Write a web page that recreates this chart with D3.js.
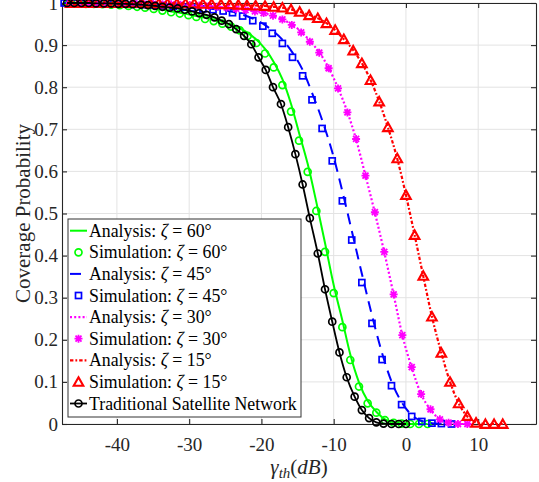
<!DOCTYPE html>
<html>
<head>
<meta charset="utf-8">
<script src="https://cdn.jsdelivr.net/npm/d3@7"></script>
<style>
  body { margin: 0; background: #fff; }
  svg { display: block; }
  text { font-family: "Liberation Serif", "Times New Roman", serif; }
</style>
</head>
<body>
<div id="chart"></div>
<script>
const width = 539;
const height = 482;

// ---- data ----
const xTicks = [-40, -30, -20, -10, 0, 10];
const yTicks = [0, 0.1, 0.2, 0.3, 0.4, 0.5, 0.6, 0.7, 0.8, 0.9, 1];

// zeta = 60 deg
const greenX = [-46.7, -45.5, -44.3, -43.2, -42.0, -40.8, -39.6, -38.4, -37.2, -36.1, -34.9, -33.7, -32.5, -31.3, -30.1, -29.0, -27.8, -26.6, -25.4, -24.2, -23.0, -21.9, -20.7, -19.5, -18.3, -17.1, -15.9, -14.8, -13.6, -12.4, -11.2, -10.0, -8.8, -7.7, -6.5, -5.3, -4.1, -2.9, -1.7, -0.6, 0.6, 1.8, 3.0];
const greenAnalysis = [0.999, 0.999, 0.998, 0.998, 0.997, 0.996, 0.995, 0.994, 0.992, 0.990, 0.987, 0.984, 0.980, 0.977, 0.973, 0.969, 0.965, 0.960, 0.955, 0.948, 0.940, 0.929, 0.913, 0.891, 0.860, 0.819, 0.760, 0.692, 0.618, 0.527, 0.430, 0.330, 0.246, 0.165, 0.099, 0.055, 0.029, 0.011, 0.004, 0.001, 0, 0, 0];
const greenSim = [0.999, 0.999, 0.998, 0.998, 0.997, 0.996, 0.995, 0.993, 0.991, 0.989, 0.986, 0.982, 0.978, 0.975, 0.971, 0.967, 0.962, 0.957, 0.951, 0.944, 0.935, 0.922, 0.905, 0.880, 0.847, 0.805, 0.742, 0.673, 0.599, 0.506, 0.409, 0.311, 0.230, 0.152, 0.089, 0.049, 0.027, 0.009, 0.003, 0.001, 0, 0, 0];

// zeta = 45 deg
const blueX = [-47.3, -45.9, -44.6, -43.2, -41.8, -40.5, -39.1, -37.7, -36.3, -35.0, -33.6, -32.2, -30.8, -29.5, -28.1, -26.7, -25.3, -24.0, -22.6, -21.2, -19.8, -18.5, -17.1, -15.7, -14.3, -13.0, -11.6, -10.2, -8.8, -7.5, -6.1, -4.7, -3.3, -2.0, -0.6, 0.8, 2.2, 3.6, 4.9, 6.3];
const blueAnalysis = [1.000, 1.000, 0.999, 0.999, 0.999, 0.998, 0.998, 0.997, 0.996, 0.996, 0.995, 0.993, 0.991, 0.990, 0.988, 0.986, 0.983, 0.979, 0.972, 0.963, 0.951, 0.935, 0.913, 0.882, 0.841, 0.787, 0.722, 0.646, 0.553, 0.459, 0.357, 0.258, 0.168, 0.101, 0.052, 0.021, 0.007, 0.002, 0.001, 0];
const blueSim = [1.000, 1.000, 0.999, 0.999, 0.999, 0.998, 0.998, 0.997, 0.996, 0.995, 0.994, 0.992, 0.990, 0.988, 0.986, 0.984, 0.981, 0.977, 0.969, 0.958, 0.945, 0.928, 0.904, 0.871, 0.827, 0.770, 0.702, 0.625, 0.530, 0.437, 0.336, 0.239, 0.153, 0.091, 0.046, 0.018, 0.006, 0.002, 0.001, 0];

// zeta = 30 deg
const magentaX = [-46.5, -45.3, -44.0, -42.7, -41.4, -40.1, -38.9, -37.6, -36.3, -35.0, -33.7, -32.5, -31.2, -29.9, -28.6, -27.3, -26.1, -24.8, -23.5, -22.2, -20.9, -19.7, -18.4, -17.1, -15.8, -14.5, -13.3, -12.0, -10.7, -9.4, -8.1, -6.9, -5.6, -4.3, -3.0, -1.7, -0.5, 0.8, 2.1, 3.4, 4.7, 5.9, 7.2, 8.5];
const magentaAnalysis = [1.000, 1.000, 1.000, 1.000, 1.000, 0.999, 0.999, 0.999, 0.998, 0.998, 0.997, 0.997, 0.996, 0.995, 0.994, 0.993, 0.991, 0.989, 0.986, 0.983, 0.980, 0.976, 0.970, 0.961, 0.949, 0.932, 0.910, 0.883, 0.846, 0.798, 0.741, 0.676, 0.590, 0.502, 0.408, 0.307, 0.211, 0.134, 0.071, 0.034, 0.011, 0.003, 0, 0];
const magentaSim = [1.000, 1.000, 1.000, 1.000, 1.000, 0.999, 0.999, 0.999, 0.998, 0.998, 0.997, 0.997, 0.996, 0.995, 0.994, 0.993, 0.991, 0.989, 0.986, 0.983, 0.980, 0.976, 0.970, 0.961, 0.948, 0.930, 0.908, 0.882, 0.845, 0.797, 0.740, 0.677, 0.590, 0.503, 0.409, 0.308, 0.211, 0.135, 0.071, 0.035, 0.011, 0.003, 0, 0];

// zeta = 15 deg
const redX = [-46.4, -45.2, -43.9, -42.7, -41.5, -40.3, -39.1, -37.8, -36.6, -35.4, -34.2, -33.0, -31.7, -30.5, -29.3, -28.1, -26.9, -25.6, -24.4, -23.2, -22.0, -20.8, -19.5, -18.3, -17.1, -15.9, -14.7, -13.4, -12.2, -11.0, -9.8, -8.6, -7.3, -6.1, -4.9, -3.7, -2.5, -1.2, 0.0, 1.2, 2.4, 3.6, 4.9, 6.1, 7.3, 8.5, 9.7, 11.0, 12.2, 13.4];
const redAnalysis = [1, 1, 1, 1, 1, 1, 1, 1, 1, 0.999, 0.999, 0.999, 0.999, 0.999, 0.999, 0.998, 0.998, 0.997, 0.997, 0.996, 0.995, 0.994, 0.993, 0.991, 0.989, 0.985, 0.979, 0.972, 0.964, 0.952, 0.936, 0.914, 0.888, 0.857, 0.817, 0.766, 0.705, 0.630, 0.544, 0.449, 0.351, 0.255, 0.169, 0.100, 0.049, 0.018, 0.004, 0, 0, 0];
const redSim = [1, 1, 1, 1, 1, 1, 1, 1, 1, 0.999, 0.999, 0.999, 0.999, 0.999, 0.999, 0.998, 0.998, 0.997, 0.997, 0.996, 0.995, 0.994, 0.993, 0.991, 0.989, 0.985, 0.979, 0.971, 0.964, 0.952, 0.936, 0.914, 0.887, 0.857, 0.817, 0.766, 0.705, 0.631, 0.544, 0.449, 0.352, 0.255, 0.169, 0.100, 0.049, 0.019, 0.003, 0, 0, 0];

// traditional satellite network
const tradX = [-46.9, -45.9, -44.9, -43.9, -42.9, -41.8, -40.8, -39.8, -38.8, -37.8, -36.7, -35.7, -34.7, -33.7, -32.7, -31.6, -30.6, -29.6, -28.6, -27.6, -26.5, -25.5, -24.5, -23.5, -22.4, -21.4, -20.4, -19.4, -18.4, -17.3, -16.3, -15.3, -14.3, -13.3, -12.2, -11.2, -10.2, -9.2, -8.2, -7.1, -6.1, -5.1, -4.1, -3.1, -2.0, -1.0, 0];
const tradY = [1.000, 1.000, 1.000, 1.000, 0.999, 0.999, 0.999, 0.998, 0.998, 0.997, 0.996, 0.995, 0.993, 0.991, 0.989, 0.987, 0.984, 0.980, 0.976, 0.972, 0.966, 0.958, 0.950, 0.938, 0.922, 0.902, 0.871, 0.841, 0.800, 0.760, 0.705, 0.641, 0.569, 0.489, 0.405, 0.320, 0.243, 0.170, 0.111, 0.065, 0.033, 0.014, 0.004, 0.001, 0, 0, 0];

const legendLabels = [
  "Analysis: ζ = 60°", "Simulation: ζ = 60°",
  "Analysis: ζ = 45°", "Simulation: ζ = 45°",
  "Analysis: ζ = 30°", "Simulation: ζ = 30°",
  "Analysis: ζ = 15°", "Simulation: ζ = 15°",
  "Traditional Satellite Network"
];

// ---- series styling (drawing order = legend order) ----
const series = [
  { x: greenX, y: greenAnalysis, color: '#00ff00', dash: null, marker: null, width: 2 },
  { x: greenX, y: greenSim, color: '#00ff00', dash: null, marker: 'circle', line: false },
  { x: blueX, y: blueAnalysis, color: '#0000ff', dash: '11,7', marker: null, width: 2 },
  { x: blueX, y: blueSim, color: '#0000ff', dash: null, marker: 'square', line: false },
  { x: magentaX, y: magentaAnalysis, color: '#ff00ff', dash: '2,2.2', marker: null, width: 2.2 },
  { x: magentaX, y: magentaSim, color: '#ff00ff', dash: null, marker: 'star', line: false },
  { x: redX, y: redAnalysis, color: '#ff0000', dash: '3.4,2,1.8,2', marker: null, width: 2.2 },
  { x: redX, y: redSim, color: '#ff0000', dash: null, marker: 'triangle', line: false },
  { x: tradX, y: tradY, color: '#000000', dash: null, marker: 'circle', width: 1.8 }
];

const plot = { left: 62, right: 536, top: 3, bottom: 424 };
const axisColor = '#262626';
const serif = '"Liberation Serif", "Times New Roman", serif';

const x = d3.scaleLinear().domain([-47.6, 18]).range([plot.left, plot.right]);
const y = d3.scaleLinear().domain([0, 1]).range([plot.bottom, plot.top]);

const svg = d3.select('#chart').append('svg')
  .attr('width', width)
  .attr('height', height)
  .style('background', '#fff');

svg.append('defs').append('clipPath').attr('id', 'plotClip')
  .append('rect')
  .attr('x', plot.left).attr('y', -20)
  .attr('width', plot.right - plot.left)
  .attr('height', plot.bottom + 30);

// === grid ===
const grid = svg.append('g').attr('stroke', '#e3e3e3').attr('stroke-width', 1);
grid.selectAll('line.gx').data(xTicks).join('line')
  .attr('class', 'gx')
  .attr('x1', d => x(d)).attr('x2', d => x(d))
  .attr('y1', plot.top).attr('y2', plot.bottom);
grid.selectAll('line.gy').data(yTicks).join('line')
  .attr('class', 'gy')
  .attr('x1', plot.left).attr('x2', plot.right)
  .attr('y1', d => y(d)).attr('y2', d => y(d));

// === axes ===
function styleAxis(g) {
  g.attr('color', axisColor);
  g.select('.domain').attr('stroke-width', 1.1);
  g.selectAll('.tick line').attr('stroke-width', 1.1);
  g.selectAll('text')
    .style('font-family', serif)
    .style('font-size', '19px')
    .attr('fill', axisColor);
}

svg.append('g')
  .attr('transform', `translate(0,${plot.bottom})`)
  .call(d3.axisBottom(x).tickValues(xTicks).tickSizeInner(-5).tickSizeOuter(0)
    .tickPadding(14).tickFormat(d => String(d)))
  .call(styleAxis);

svg.append('g')
  .attr('transform', `translate(0,${plot.top})`)
  .call(d3.axisTop(x).tickValues(xTicks).tickSizeInner(-5).tickSizeOuter(0).tickFormat(''))
  .call(styleAxis);

svg.append('g')
  .attr('transform', `translate(${plot.left},0)`)
  .call(d3.axisLeft(y).tickValues(yTicks).tickSizeInner(-5).tickSizeOuter(0)
    .tickPadding(4).tickFormat(d3.format('~g')))
  .call(styleAxis);

svg.append('g')
  .attr('transform', `translate(${plot.right},0)`)
  .call(d3.axisRight(y).tickValues(yTicks).tickSizeInner(-5).tickSizeOuter(0).tickFormat(''))
  .call(styleAxis);

// === axis labels ===
svg.append('text')
  .attr('transform', `translate(30,${(plot.top + plot.bottom) / 2}) rotate(-90)`)
  .attr('text-anchor', 'middle')
  .attr('fill', axisColor)
  .style('font-size', '21px')
  .text('Coverage Probability');

const xl = svg.append('text')
  .attr('x', (plot.left + plot.right) / 2)
  .attr('y', 474)
  .attr('text-anchor', 'middle')
  .attr('fill', axisColor)
  .style('font-size', '21px');
xl.append('tspan').style('font-style', 'italic').text('γ');
xl.append('tspan').style('font-style', 'italic').style('font-size', '15px').attr('dy', 4).text('th');
xl.append('tspan').attr('dy', -4).text('(');
xl.append('tspan').style('font-style', 'italic').text('dB');
xl.append('tspan').text(')');

// === markers ===
function drawMarker(sel, type, color) {
  if (type === 'circle') {
    sel.append('circle').attr('r', 3.5)
      .attr('fill', 'none').attr('stroke', color).attr('stroke-width', 1.7);
  } else if (type === 'square') {
    sel.append('rect').attr('x', -3).attr('y', -3).attr('width', 6).attr('height', 6)
      .attr('fill', 'none').attr('stroke', color).attr('stroke-width', 1.7);
  } else if (type === 'star') {
    sel.append('path')
      .attr('d', 'M-4,0H4M0,-4V4M-3,-3L3,3M-3,3L3,-3')
      .attr('fill', 'none').attr('stroke', color).attr('stroke-width', 1.8);
  } else if (type === 'triangle') {
    sel.append('path')
      .attr('d', 'M0,-4.6L4.8,3.9L-4.8,3.9Z')
      .attr('fill', 'none').attr('stroke', color).attr('stroke-width', 2.1)
      .attr('stroke-linejoin', 'miter');
  }
}

const line = d3.line()
  .x(d => x(d[0]))
  .y(d => y(d[1]))
  .curve(d3.curveMonotoneX);

const [xmin, xmax] = x.domain();
const dataLayer = svg.append('g');

series.forEach(s => {
  const pts = d3.zip(s.x, s.y);
  if (s.line !== false) {
    dataLayer.append('path')
      .datum(pts)
      .attr('clip-path', 'url(#plotClip)')
      .attr('d', line)
      .attr('fill', 'none')
      .attr('stroke', s.color)
      .attr('stroke-width', s.width)
      .attr('stroke-dasharray', s.dash)
      .attr('stroke-linejoin', 'round');
  }
  if (s.marker) {
    dataLayer.append('g').selectAll('g')
      .data(pts.filter(p => p[0] >= xmin && p[0] <= xmax))
      .join('g')
      .attr('transform', p => `translate(${x(p[0])},${y(p[1])})`)
      .each(function () { drawMarker(d3.select(this), s.marker, s.color); });
  }
});

// === legend ===
const legend = svg.append('g');
const lg = { x: 68, y: 219, w: 233, h: 198, row0: 230.7, step: 21.6 };
legend.append('rect')
  .attr('x', lg.x).attr('y', lg.y).attr('width', lg.w).attr('height', lg.h)
  .attr('fill', '#fff').attr('stroke', '#333').attr('stroke-width', 1);

const rows = legend.selectAll('g.row')
  .data(series)
  .join('g')
  .attr('class', 'row')
  .attr('transform', (d, i) => `translate(0,${lg.row0 + i * lg.step})`);

rows.each(function (s, i) {
  const g = d3.select(this);
  if (s.line !== false) {
    g.append('line')
      .attr('x1', 70).attr('x2', 87).attr('y1', 0).attr('y2', 0)
      .attr('stroke', s.color)
      .attr('stroke-width', s.width)
      .attr('stroke-dasharray', s.dash);
  }
  if (s.marker) {
    const m = g.append('g').attr('transform', 'translate(78.5,0)');
    drawMarker(m, s.marker, s.color);
  }
  const t = g.append('text')
    .attr('x', 89).attr('y', 6)
    .attr('fill', '#000')
    .style('font-size', '17.8px');
  const parts = legendLabels[i].split('ζ');
  t.append('tspan').text(parts[0]);
  if (parts.length > 1) {
    t.append('tspan').style('font-style', 'italic').text('ζ');
    t.append('tspan').text(parts[1]);
  }
});
</script>
</body>
</html>
